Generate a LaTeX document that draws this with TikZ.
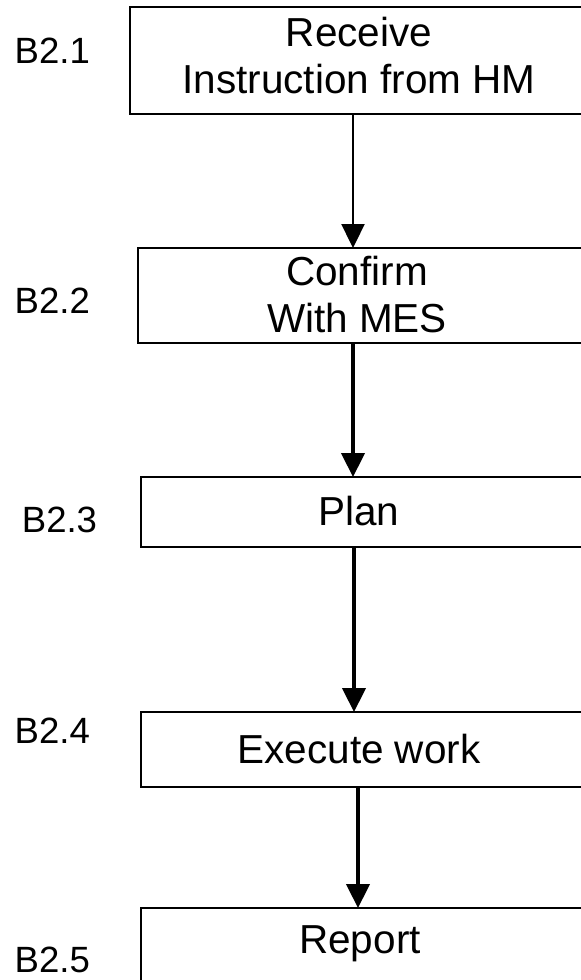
\documentclass[tikz,border=0pt]{standalone}
\usepackage{fontspec}
\setmainfont{Liberation Sans}
\usetikzlibrary{arrows.meta}
\begin{document}
\begin{tikzpicture}[
        box/.style={draw, line width=1.8pt, anchor=north west, minimum width=13cm, outer sep=0pt, inner sep=0pt},
        steptext/.style={font=\fontsize{28.8}{33.3}\selectfont, align=center, inner sep=0pt},
        tag/.style={font=\fontsize{26}{30}\selectfont, anchor=base west, inner sep=0pt},
        flow/.style={-{Triangle[width=0.58cm,length=0.6cm]}, line width=2.5pt},
        thinflow/.style={flow, line width=1.1pt}
    ]
        \useasboundingbox (0,0) rectangle (14.525,-24.5);
        \clip (0,0) rectangle (14.525,-24.5);

        \node[box, minimum height=2.675cm] (recvbox) at (3.25,-0.175) {};
        \node[box, minimum height=2.375cm] (confbox) at (3.45,-6.2) {};
        \node[box, minimum height=1.75cm] (planbox) at (3.525,-11.925) {};
        \node[box, minimum height=1.875cm] (execbox) at (3.525,-17.8) {};
        \node[box, minimum height=2.5cm] (repbox) at (3.525,-22.7) {};

        \node[steptext] (recv) at (8.975,-1.3875) {Receive\\Instruction from HM};
        \node[steptext] (conf) at (8.925,-7.3625) {Confirm\\With MES};
        \node[steptext, anchor=base] (plan) at (8.975,-13.125) {Plan};
        \node[steptext, anchor=base] (exec) at (8.975,-19.075) {Execute work};
        \node[steptext, anchor=base] (rep) at (9.0,-23.825) {Report};

        \node[tag] (tag1) at (0.36,-1.575) {B2.1};
        \node[tag] (tag2) at (0.36,-7.825) {B2.2};
        \node[tag] (tag3) at (0.54,-13.3) {B2.3};
        \node[tag] (tag4) at (0.36,-18.575) {B2.4};
        \node[tag] (tag5) at (0.36,-24.3) {B2.5};

        \coordinate (colA) at (8.825,0);
        \coordinate (colB) at (8.85,0);
        \coordinate (colC) at (8.95,0);

        \draw[thinflow] (recvbox.south -| colA) -- (confbox.north -| colA);
        \draw[flow] (confbox.south -| colA) -- (planbox.north -| colA);
        \draw[flow] (planbox.south -| colB) -- (execbox.north -| colB);
        \draw[flow] (execbox.south -| colC) -- (repbox.north -| colC);
    \end{tikzpicture}
\end{document}
